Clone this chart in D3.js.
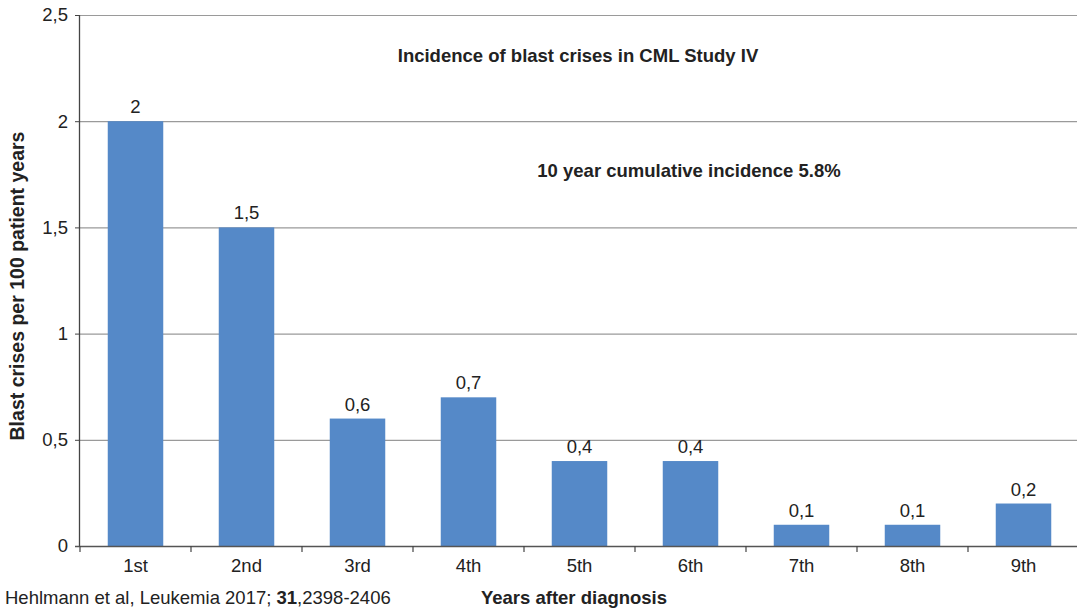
<!DOCTYPE html>
<html><head><meta charset="utf-8">
<script src="https://cdn.jsdelivr.net/npm/d3@7"></script>
<style>body{margin:0;background:#fff;} svg{display:block;font-family:"Liberation Sans",Arial,sans-serif;}</style>
</head><body>
<svg id="c" width="1077" height="609"></svg>
<script>
const categories = ["1st","2nd","3rd","4th","5th","6th","7th","8th","9th"];
const values = [2, 1.5, 0.6, 0.7, 0.4, 0.4, 0.1, 0.1, 0.2];
const yTicks = [0, 0.5, 1, 1.5, 2, 2.5];
const title = "Incidence of blast crises in CML Study IV";
const subtitle = "10 year cumulative incidence 5.8%";

const svg = d3.select("#c");
const pL = 80, pR = 1079, pT = 15, pB = 546;
const FS = 18.5;
const fmt = v => String(v).replace(".", ",");
const x = d3.scaleBand().domain(categories).range([pL, pR]).paddingInner(0.5).paddingOuter(0.25);
const y = d3.scaleLinear().domain([0, 2.5]).range([pB, pT]);

// gridlines
svg.append("g").selectAll("line").data(yTicks.filter(d => d > 0)).join("line")
  .attr("x1", pL).attr("x2", 1077).attr("y1", d => y(d) + 0.5).attr("y2", d => y(d) + 0.5)
  .attr("stroke", "#9a9a9a").attr("stroke-width", 1.2);

// bars
svg.append("g").selectAll("rect").data(values).join("rect")
  .attr("x", (d, i) => x(categories[i])).attr("width", x.bandwidth())
  .attr("y", d => y(d)).attr("height", d => pB - y(d))
  .attr("fill", "#5589c8");

// value labels
svg.append("g").selectAll("text").data(values).join("text")
  .attr("x", (d, i) => x(categories[i]) + x.bandwidth() / 2).attr("y", d => y(d) - 8)
  .attr("text-anchor", "middle").attr("font-size", FS).attr("fill", "#222").text(d => fmt(d));

// y axis
const ya = svg.append("g").attr("transform", `translate(${pL},0)`)
  .call(d3.axisLeft(y).tickValues(yTicks).tickSize(5).tickPadding(7).tickFormat(fmt));
ya.select(".domain").attr("stroke", "#444").attr("stroke-width", 1.3).attr("d", `M-0.5,${pB}V${pT}`);
ya.selectAll(".tick line").attr("stroke", "#444");
ya.selectAll(".tick text").attr("font-size", FS).attr("fill", "#222").attr("font-family", "Liberation Sans, Arial, sans-serif");

// x axis
const xa = svg.append("g").attr("transform", `translate(0,${pB})`)
  .call(d3.axisBottom(x).tickSize(0).tickPadding(13));
xa.select(".domain").attr("stroke", "#555").attr("stroke-width", 1.5).attr("d", `M${pL - 5},0.5H1077`);
xa.selectAll(".tick text").attr("font-size", FS).attr("fill", "#222").attr("font-family", "Liberation Sans, Arial, sans-serif");
// band boundary ticks
const bounds = d3.range(categories.length).map(i => pL + i * (pR - pL) / categories.length);
svg.append("g").selectAll("line").data(bounds).join("line")
  .attr("x1", d => d).attr("x2", d => d).attr("y1", pB).attr("y2", pB + 6)
  .attr("stroke", "#444").attr("stroke-width", 1.2);

// titles
svg.append("text").attr("x", 578).attr("y", 62).attr("text-anchor", "middle")
  .attr("font-size", FS).attr("font-weight", "bold").attr("fill", "#222").text(title);
svg.append("text").attr("x", 689).attr("y", 177).attr("text-anchor", "middle")
  .attr("font-size", FS).attr("font-weight", "bold").attr("fill", "#222").text(subtitle);
svg.append("text").attr("transform", "translate(24,286) rotate(-90)").attr("text-anchor", "middle")
  .attr("font-size", 19.5).attr("font-weight", "bold").attr("fill", "#222").text("Blast crises per 100 patient years");
svg.append("text").attr("x", 574).attr("y", 604).attr("text-anchor", "middle")
  .attr("font-size", FS).attr("font-weight", "bold").attr("fill", "#222").text("Years after diagnosis");
const cit = svg.append("text").attr("x", 5).attr("y", 604).attr("font-size", FS).attr("fill", "#222");
cit.append("tspan").text("Hehlmann et al, Leukemia 2017; ");
cit.append("tspan").attr("font-weight", "bold").text("31");
cit.append("tspan").text(",2398-2406");
</script>
</body></html>
